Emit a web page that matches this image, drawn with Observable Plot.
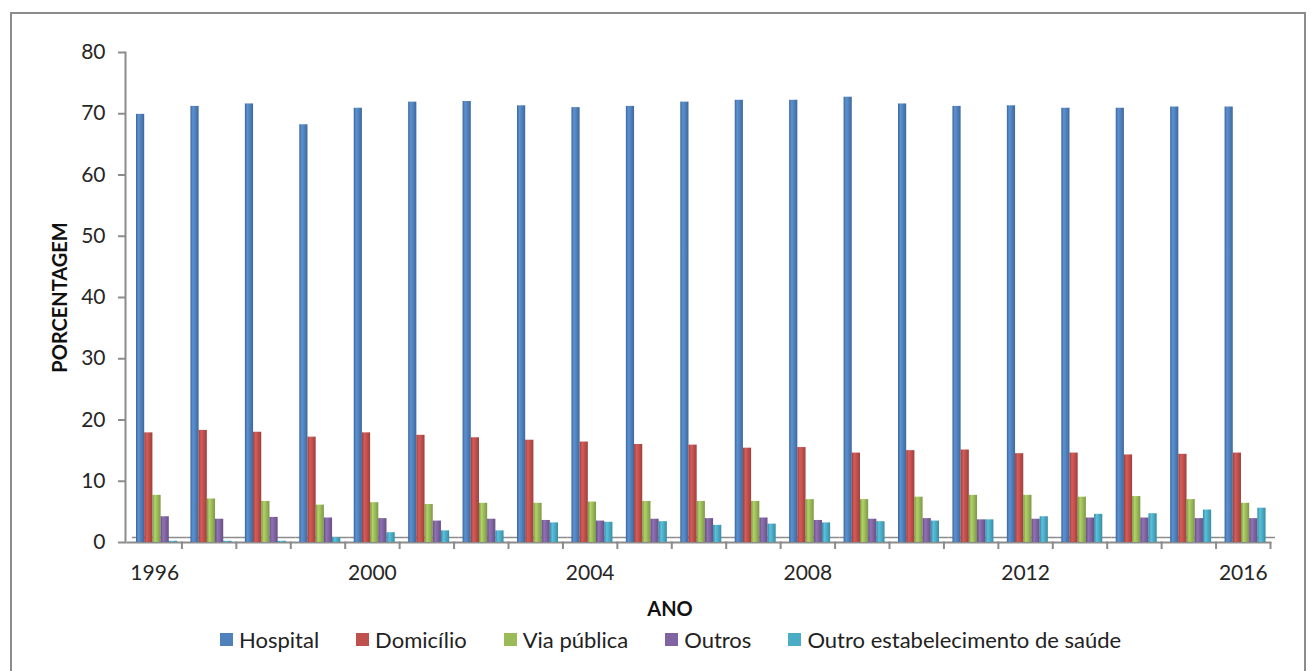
<!DOCTYPE html>
<html>
<head>
<meta charset="utf-8">
<script src="https://cdn.jsdelivr.net/npm/d3@7"></script>
<script src="https://cdn.jsdelivr.net/npm/@observablehq/plot@0.6"></script>
<style>
  body { margin: 0; background: #fff; font-family: Lato, "Open Sans", sans-serif; }
  #wrap { position: relative; width: 1311px; height: 671px; overflow: hidden; background: #fff; }
  #border { position: absolute; left: 10px; top: 12px; width: 1296px; height: 720px; border: 2px solid #8c8c8c; box-sizing: border-box; }
  #chart { position: absolute; left: 0; top: 0; }
  #xtitle { position: absolute; top: 596px; left: 570px; width: 200px; text-align: center; font-weight: bold; font-size: 20px; color: #111; }
  #legend { position: absolute; top: 626px; left: 220px; display: flex; align-items: center; font-size: 22px; color: #222; white-space: nowrap; }
  #legend .item { display: flex; align-items: center; margin-right: 37px; }
  #legend .sw { width: 13px; height: 13px; margin-right: 6px; }
</style>
</head>
<body>
<div id="wrap">
  <div id="chart"></div>
  <div id="border"></div>
  <div id="xtitle">ANO</div>
  <div id="legend"></div>
</div>
<script>
// Local de ocorrência dos óbitos (%), 1996–2016
const years = [1996, 1997, 1998, 1999, 2000, 2001, 2002, 2003, 2004, 2005, 2006,
               2007, 2008, 2009, 2010, 2011, 2012, 2013, 2014, 2015, 2016];
const labelYears = [1996, 2000, 2004, 2008, 2012, 2016];
const yTicks = [0, 10, 20, 30, 40, 50, 60, 70, 80];

const series = ["Hospital", "Domicílio", "Via pública", "Outros", "Outro estabelecimento de saúde"];
const colors = ["#4F81BD", "#C0504D", "#9BBB59", "#8064A2", "#4BACC6"];

const hospital   = [69.9, 71.2, 71.6, 68.2, 70.9, 71.9, 72.0, 71.3, 71.0, 71.2, 71.9,
                    72.2, 72.2, 72.7, 71.6, 71.2, 71.3, 70.9, 70.9, 71.1, 71.1];
const domicilio  = [17.9, 18.3, 18.0, 17.2, 17.9, 17.5, 17.1, 16.7, 16.4, 16.0, 15.9,
                    15.4, 15.5, 14.6, 15.0, 15.1, 14.5, 14.6, 14.3, 14.4, 14.6];
const viaPublica = [7.7, 7.1, 6.7, 6.1, 6.5, 6.2, 6.4, 6.4, 6.6, 6.7, 6.7,
                    6.7, 7.0, 7.0, 7.4, 7.7, 7.7, 7.4, 7.5, 7.0, 6.4];
const outros     = [4.2, 3.8, 4.1, 4.0, 3.9, 3.5, 3.8, 3.6, 3.5, 3.8, 3.9,
                    4.0, 3.6, 3.8, 3.9, 3.7, 3.8, 4.0, 4.0, 3.9, 3.9];
const outroEstab = [0.2, 0.2, 0.2, 0.8, 1.6, 1.9, 1.9, 3.2, 3.3, 3.4, 2.8,
                    3.0, 3.2, 3.4, 3.5, 3.7, 4.2, 4.6, 4.7, 5.3, 5.6];

const values = [hospital, domicilio, viaPublica, outros, outroEstab];
const rows = years.flatMap((year, i) =>
  series.map((s, j) => ({year, series: s, value: values[j][i]})));

const W = 1311, H = 590, mL = 127, mR = 41, mT = 52, mB = 48;
const step = (W - mL - mR) / years.length;
const axisGray = "#8c8c8c";

const chart = Plot.plot({
  width: W, height: H,
  marginLeft: mL, marginRight: mR, marginTop: mT, marginBottom: mB,
  style: {fontFamily: "Lato, 'Open Sans', sans-serif", fontSize: "21px", color: "#262626", background: "transparent", overflow: "visible"},
  fx: {domain: years, padding: 0, round: false, axis: null, label: null},
  x: {domain: series, paddingInner: 0, paddingOuter: 0.82, align: 0.67, round: false, axis: null},
  y: {domain: [0, 80], label: null, axis: null},
  color: {domain: series, range: series.map((s, i) => `url(#cyl-${i})`)},
  marks: [
    // floor of the plot (back edge and front edge)
    Plot.ruleY([0], {dx: 5, dy: -5, stroke: axisGray, strokeWidth: 1.5}),
    Plot.frame({anchor: "bottom", stroke: axisGray, strokeWidth: 2}),
    Plot.frame({anchor: "left", facetAnchor: "left", dx: -2, stroke: axisGray, strokeWidth: 2}),
    Plot.barY(rows, {fx: "year", x: "series", y: "value", fill: "series"}),
    Plot.axisY(yTicks, {dx: -2, tickSize: 7, tickPadding: 13, stroke: axisGray, strokeWidth: 2, label: null, fill: "#262626"}),
    Plot.text(["PORCENTAGEM"], {fx: [years[0]], frameAnchor: "left", textAnchor: "middle", dx: -67, rotate: -90,
      fontWeight: "bold", fontSize: 20, fill: "#111"}),
    // boundary ticks between year groups
    Plot.axisFx({anchor: "bottom", ticks: years, dx: step / 2, tickSize: 7, text: null, label: null,
      stroke: axisGray, strokeWidth: 2}),
    Plot.axisFx({anchor: "bottom", ticks: labelYears, tickSize: 0, tickPadding: 23, tickFormat: "d",
      label: null, fill: "#262626"})
  ]
});

// cylinder shading for the bars
const defs = d3.select(chart).insert("defs", ":first-child");
colors.forEach((c, i) => {
  const g = defs.append("linearGradient").attr("id", `cyl-${i}`).attr("x1", 0).attr("x2", 1).attr("y1", 0).attr("y2", 0);
  g.append("stop").attr("offset", "0%").attr("stop-color", d3.color(c).darker(0.7));
  g.append("stop").attr("offset", "30%").attr("stop-color", d3.color(c).brighter(0.35));
  g.append("stop").attr("offset", "60%").attr("stop-color", c);
  g.append("stop").attr("offset", "100%").attr("stop-color", d3.color(c).darker(0.6));
});

document.getElementById("chart").appendChild(chart);

const legend = d3.select("#legend");
series.forEach((s, i) => {
  const item = legend.append("div").attr("class", "item");
  item.append("div").attr("class", "sw").style("background", colors[i]);
  item.append("span").text(s);
});
</script>
</body>
</html>
